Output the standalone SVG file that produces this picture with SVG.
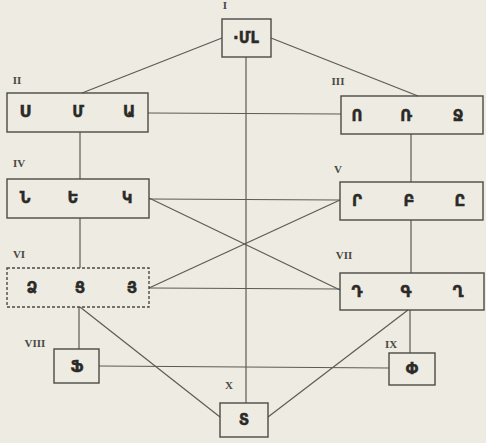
<svg xmlns="http://www.w3.org/2000/svg" width="486" height="443" viewBox="0 0 486 443">
<style>
.bg{fill:#edebe2}
.box{fill:none;stroke:#4b4a45;stroke-width:1.4}
.dash{stroke-dasharray:3 2}
.ln{stroke:#5c5b55;stroke-width:1.2;fill:none}
.lt{font-family:"DejaVu Sans",sans-serif;font-weight:bold;font-size:15px;fill:#2a2a27;stroke:#2a2a27;stroke-width:0.4;text-anchor:middle;dominant-baseline:central}
.rn{font-family:"Liberation Serif",serif;font-weight:bold;font-size:11px;fill:#4a4944;text-anchor:middle}
</style>
<rect class="bg" x="0" y="0" width="486" height="443"/>
<g id="connectors">
<path class="ln" d="M222,38 L82,93"/>
<path class="ln" d="M271,38 L418,96"/>
<path class="ln" d="M246,57 L246,403"/>
<path class="ln" d="M148,113 L341,114"/>
<path class="ln" d="M80,132 L80,179"/>
<path class="ln" d="M80,218 L80,268"/>
<path class="ln" d="M79,307 L79,349"/>
<path class="ln" d="M411,134 L411,182"/>
<path class="ln" d="M411,220 L411,273"/>
<path class="ln" d="M410,310 L410,353"/>
<path class="ln" d="M149,199 L340,200"/>
<path class="ln" d="M149,288 L340,289"/>
<path class="ln" d="M149,198 L340,290"/>
<path class="ln" d="M149,288 L340,200"/>
<path class="ln" d="M80,307 L220,417"/>
<path class="ln" d="M408,310 L268,417"/>
<path class="ln" d="M99,366 L389,368"/>
</g>
<g id="n1"><rect class="box" x="222" y="19" width="49" height="38"/><text class="rn" x="225" y="9">I</text><text class="lt" x="246" y="38">·ՄԼ</text></g>
<g id="n2"><rect class="box" x="7" y="93" width="141" height="39"/><text class="rn" x="17" y="84">II</text><text class="lt" x="25" y="112">Ս</text><text class="lt" x="78" y="112">Մ</text><text class="lt" x="129" y="112">Ա</text></g>
<g id="n3"><rect class="box" x="341" y="96" width="142" height="38"/><text class="rn" x="338" y="85">III</text><text class="lt" x="357" y="116">Ո</text><text class="lt" x="406" y="116">Ռ</text><text class="lt" x="458" y="116">Ջ</text></g>
<g id="n4"><rect class="box" x="7" y="179" width="142" height="39"/><text class="rn" x="19" y="167">IV</text><text class="lt" x="25" y="198">Ն</text><text class="lt" x="73" y="198">Ե</text><text class="lt" x="127" y="198">Կ</text></g>
<g id="n5"><rect class="box" x="340" y="182" width="143" height="38"/><text class="rn" x="338" y="173">V</text><text class="lt" x="357" y="201">Ր</text><text class="lt" x="409" y="201">Բ</text><text class="lt" x="460" y="201">Ը</text></g>
<g id="n6"><rect class="box dash" x="7" y="268" width="142" height="39"/><text class="rn" x="19" y="258">VI</text><text class="lt" x="32" y="288">Ձ</text><text class="lt" x="80" y="288">Ց</text><text class="lt" x="132" y="288">Յ</text></g>
<g id="n7"><rect class="box" x="340" y="273" width="144" height="37"/><text class="rn" x="344" y="259">VII</text><text class="lt" x="357" y="292">Դ</text><text class="lt" x="406" y="292">Գ</text><text class="lt" x="458" y="292">Ղ</text></g>
<g id="n8"><rect class="box" x="54" y="349" width="45" height="34"/><text class="rn" x="35" y="347">VIII</text><text class="lt" x="77" y="367">Ֆ</text></g>
<g id="n9"><rect class="box" x="389" y="353" width="46" height="32"/><text class="rn" x="391" y="348">IX</text><text class="lt" x="412" y="369">Փ</text></g>
<g id="n10"><rect class="box" x="220" y="403" width="48" height="34"/><text class="rn" x="229" y="389">X</text><text class="lt" x="244" y="420">Տ</text></g>
</svg>
